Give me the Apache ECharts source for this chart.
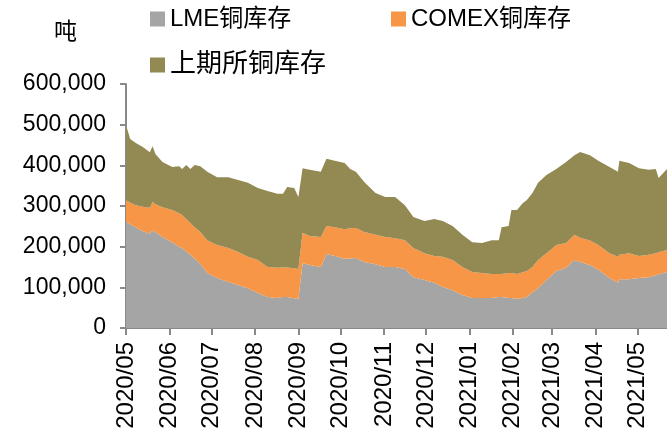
<!DOCTYPE html>
<html>
<head>
<meta charset="utf-8">
<script src="https://cdn.jsdelivr.net/npm/echarts@6/dist/echarts.min.js"></script>
<style>
html,body{margin:0;padding:0;background:#fff;}
#chart{width:667px;height:442px;}
</style>
</head>
<body>
<div id="chart"></div>
<script>
const dates = [
'2020-05-01','2020-05-04','2020-05-08','2020-05-13','2020-05-18','2020-05-20','2020-05-22','2020-05-27',
'2020-06-03','2020-06-08','2020-06-10','2020-06-13','2020-06-16','2020-06-19','2020-06-23','2020-06-28',
'2020-07-05','2020-07-13','2020-07-20','2020-07-27','2020-08-03','2020-08-10','2020-08-17','2020-08-21',
'2020-08-24','2020-08-29','2020-09-01','2020-09-04','2020-09-09','2020-09-17','2020-09-21','2020-09-27',
'2020-10-04','2020-10-08','2020-10-12','2020-10-18','2020-10-26','2020-11-02','2020-11-09','2020-11-16',
'2020-11-22','2020-11-30','2020-12-07','2020-12-13','2020-12-20','2020-12-27','2021-01-03','2021-01-10',
'2021-01-17','2021-01-22','2021-01-24','2021-01-29','2021-01-31','2021-02-04','2021-02-08','2021-02-11',
'2021-02-15','2021-02-19','2021-02-25','2021-03-04','2021-03-11','2021-03-17','2021-03-21','2021-03-28',
'2021-04-03','2021-04-11','2021-04-17','2021-04-18','2021-04-25','2021-05-02','2021-05-09','2021-05-14',
'2021-05-16','2021-05-22'
];
const lme = [
261000,255000,248000,238000,232000,241000,236000,224000,
211000,200000,197000,188000,180000,170000,158000,135000,
123000,113000,106000,98000,86000,76000,74000,76000,
76000,73000,71000,160000,155000,150000,182000,177000,
170000,171000,172000,162000,157000,150000,150000,145000,
125000,118000,111000,101000,93000,81000,74000,74000,
74000,76000,76000,74000,74000,72000,74000,76000,
88000,98000,118000,140000,148000,167000,162000,155000,
143000,123000,111000,120000,120000,123000,125000,130000,
132000,138000
];
const comex = [
54000,53000,54000,60000,64000,69000,68000,73000,
79000,82000,81000,80000,78000,78000,78000,81000,
81000,84000,81000,77000,81000,74000,74000,73000,
73000,74000,74000,74000,71000,74000,69000,71000,
73000,74000,74000,74000,72000,74000,71000,71000,
72000,66000,66000,74000,74000,69000,64000,61000,
59000,57000,57000,61000,61000,61000,63000,64000,
62000,69000,66000,64000,61000,62000,60000,60000,
61000,61000,64000,60000,64000,54000,55000,54000,
54000,54000
];
const shfe = [
184000,157000,153000,147000,136000,137000,124000,111000,
106000,116000,113000,133000,133000,153000,162000,168000,
167000,174000,177000,182000,177000,187000,182000,181000,
198000,197000,177000,159000,163000,160000,165000,163000,
163000,146000,138000,123000,103000,98000,101000,86000,
76000,79000,91000,88000,84000,79000,73000,74000,
83000,83000,115000,116000,155000,157000,170000,175000,
182000,190000,192000,187000,199000,196000,211000,210000,
207000,212000,209000,231000,222000,216000,209000,207000,
183000,199000
];
const seriesNames = ['LME铜库存','COMEX铜库存','上期所铜库存'];
const colors = ['#A5A5A5','#F79646','#938953'];
const yMin = 0, yMax = 600000, yStep = 100000;
const xMin = '2020-05-01', xMax = '2021-05-22';

const font = '"Liberation Sans","Noto Sans CJK SC",sans-serif';
const chart = echarts.init(document.getElementById('chart'), null, {renderer:'canvas'});
function pairs(arr){ return arr.map((v,i)=>[dates[i], v]); }
const allData = [lme, comex, shfe];
const DAY = 86400000;
function legendFor(i, left, top, fs){
  return {
    data:[seriesNames[i]], left:left, top:top, icon:'rect', itemWidth:15, itemHeight:15,
    itemGap:6, textStyle:{fontFamily:font, fontSize:fs, color:'#000'}, padding:0
  };
}
chart.setOption({
  animation:false,
  backgroundColor:'#fff',
  color: colors,
  legend:[legendFor(0,150,7,24), legendFor(1,391,7,24), legendFor(2,150,52,26)],
  graphic:[{type:'text', left:54, top:21, style:{text:'吨', font:'23px '+font, fill:'#000'}}],
  grid:{left:126, right:0, top:84, bottom:114, containLabel:false},
  xAxis:{
    type:'time', min:xMin, max:xMax,
    minInterval: 28*DAY, maxInterval: 31*DAY,
    axisLine:{show:true, lineStyle:{color:'#898989', width:2}},
    axisTick:{show:true, length:7, lineStyle:{color:'#898989', width:2}},
    splitLine:{show:false},
    axisLabel:{
      rotate:90, fontFamily:font, fontSize:24, color:'#000', margin:14,
      showMinLabel:true, showMaxLabel:false, hideOverlap:false,
      formatter:function(v){
        const d = new Date(v);
        if (d.getDate() !== 1) return '';
        return d.getFullYear() + '/' + String(d.getMonth()+1).padStart(2,'0');
      }
    }
  },
  yAxis:{
    type:'value', min:yMin, max:yMax, interval:yStep,
    axisLine:{show:true, lineStyle:{color:'#898989', width:2}},
    axisTick:{show:true, length:6, lineStyle:{color:'#898989', width:2}},
    splitLine:{show:false},
    axisLabel:{fontFamily:font, fontSize:23, color:'#000', margin:20,
      formatter:function(v){ return v.toLocaleString('en-US'); }}
  },
  series: seriesNames.map((n,i)=>({
    name:n, type:'line', stack:'total', symbol:'none', showSymbol:false,
    lineStyle:{width:0}, areaStyle:{color:colors[i], opacity:1},
    itemStyle:{color:colors[i]},
    data: pairs(allData[i])
  }))
});
</script>
</body>
</html>
